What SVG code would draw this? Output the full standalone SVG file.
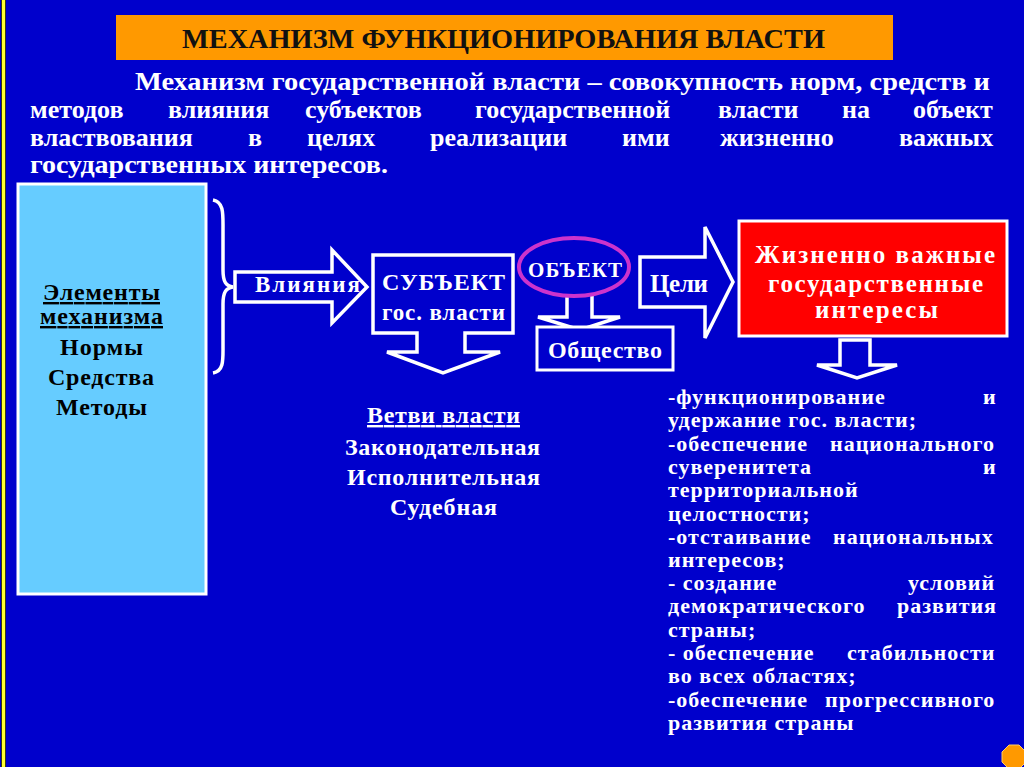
<svg xmlns="http://www.w3.org/2000/svg" width="1024" height="767" viewBox="0 0 1024 767">
<style>
  .t { font-family: "Liberation Serif", "Times New Roman", serif; font-weight: bold; }
  .w { fill: #FFFFFF; }
  .k { fill: #000000; }
  .shape { fill: #0000CC; stroke: #FFFFFF; stroke-width: 3.5; stroke-linejoin: miter; }
  .list { font-size: 22px; letter-spacing: 1px; }
</style>
<rect x="0" y="0" width="1024" height="767" fill="#0000CC"/>
<rect x="1" y="0" width="5" height="767" fill="#3A3A10"/>
<rect x="2" y="0" width="3" height="767" fill="#FFFF33"/>

<g id="title">
  <rect x="116" y="15" width="777" height="45" fill="#FF9900"/>
  <text class="t" x="182" y="48" font-size="28" fill="#111111" textLength="643" lengthAdjust="spacingAndGlyphs">МЕХАНИЗМ ФУНКЦИОНИРОВАНИЯ ВЛАСТИ</text>
</g>

<g id="definition" class="t w" font-size="26">
  <text x="135" y="90" textLength="855" lengthAdjust="spacingAndGlyphs">Механизм государственной власти – совокупность норм, средств и</text>
  <text y="118"><tspan x="30">методов</tspan><tspan x="168">влияния</tspan><tspan x="305">субъектов</tspan><tspan x="475">государственной</tspan><tspan x="718">власти</tspan><tspan x="842">на</tspan><tspan x="913">объект</tspan></text>
  <text y="146"><tspan x="30">властвования</tspan><tspan x="248">в</tspan><tspan x="307">целях</tspan><tspan x="430">реализации</tspan><tspan x="622">ими</tspan><tspan x="720">жизненно</tspan><tspan x="899">важных</tspan></text>
  <text x="30" y="173" textLength="358" lengthAdjust="spacingAndGlyphs">государственных интересов.</text>
</g>

<g id="elements">
  <rect x="18" y="184" width="188" height="410" fill="#66CCFF" stroke="#FFFFFF" stroke-width="3"/>
  <g class="t k" font-size="24">
    <text x="43" y="300" textLength="117" text-decoration="underline">Элементы</text>
    <text x="40" y="324" textLength="123" text-decoration="underline">механизма</text>
    <text x="60" y="355" textLength="83">Нормы</text>
    <text x="48" y="385" textLength="106">Средства</text>
    <text x="56" y="415" textLength="91">Методы</text>
  </g>
</g>

<g id="connectors">
  <path d="M213,200 C224,202 223,214 223,230 L223,270 C223,282 226,286 233,287 C226,288 223,292 223,304 L223,345 C223,360 224,371 213,373" fill="none" stroke="#FFFFFF" stroke-width="3.5"/>
  <polygon class="shape" points="235,272 332,272 332,250 367,287 332,323 332,302 235,302"/>
  <polygon class="shape" points="567,290 592,290 592,317 620,317 580,330 538,317 567,317"/>
  <polygon class="shape" points="640,257 705,257 705,227 733,282 705,338 705,307 640,307"/>
  <polygon class="shape" points="840,340 870,340 870,365 897,365 857,378 817,365 840,365"/>
</g>

<g id="vliyaniya">
  <text class="t w" x="255" y="292" font-size="23" textLength="105">Влияния</text>
</g>

<g id="subject">
  <polygon class="shape" stroke-width="3" points="373,255 513,255 513,333 465,333 465,352 500,352 443,373 387,352 417,352 417,333 373,333"/>
  <text class="t w" x="382" y="290" font-size="24" textLength="123">СУБЪЕКТ</text>
  <text class="t w" x="382" y="320" font-size="23" textLength="123">гос. власти</text>
</g>

<g id="object">
  <ellipse cx="574" cy="267" rx="55" ry="29" fill="#0000CC" stroke="#CC33CC" stroke-width="4"/>
  <text class="t w" x="528" y="277" font-size="21" textLength="94">ОБЪЕКТ</text>
</g>

<g id="society">
  <rect x="537" y="327" width="136" height="43" fill="#0000CC" stroke="#FFFFFF" stroke-width="3"/>
  <text class="t w" x="548" y="358" font-size="24" textLength="114">Общество</text>
</g>

<g id="tseli">
  <text class="t w" x="650" y="292" font-size="25" textLength="58">Цели</text>
</g>

<g id="interests">
  <rect x="739" y="221" width="268" height="115" fill="#FF0000" stroke="#FFFFFF" stroke-width="3"/>
  <text class="t w" x="755" y="263" font-size="25" textLength="240">Жизненно важные</text>
  <text class="t w" x="768" y="292" font-size="25" textLength="215">государственные</text>
  <text class="t w" x="815" y="318" font-size="25" textLength="123">интересы</text>
</g>

<g id="branches" class="t w" font-size="24">
  <text x="367" y="423" textLength="153" text-decoration="underline">Ветви власти</text>
  <text x="345" y="455" textLength="195">Законодательная</text>
  <text x="347" y="485" textLength="193">Исполнительная</text>
  <text x="390" y="515" textLength="107">Судебная</text>
</g>

<g id="goals" class="t w list">
  <text y="404"><tspan x="668">-функционирование</tspan><tspan x="983">и</tspan></text>
  <text x="668" y="427">удержание гос. власти;</text>
  <text y="451"><tspan x="668">-обеспечение</tspan><tspan x="830">национального</tspan></text>
  <text y="474"><tspan x="668">суверенитета</tspan><tspan x="983">и</tspan></text>
  <text x="668" y="497">территориальной</text>
  <text x="668" y="521">целостности;</text>
  <text y="544"><tspan x="668">-отстаивание</tspan><tspan x="833">национальных</tspan></text>
  <text x="668" y="567">интересов;</text>
  <text y="590"><tspan x="668">- создание</tspan><tspan x="908">условий</tspan></text>
  <text y="613"><tspan x="668">демократического</tspan><tspan x="897">развития</tspan></text>
  <text x="668" y="637">страны;</text>
  <text y="660"><tspan x="668">- обеспечение</tspan><tspan x="847">стабильности</tspan></text>
  <text x="668" y="683">во всех областях;</text>
  <text y="707"><tspan x="668">-обеспечение</tspan><tspan x="825">прогрессивного</tspan></text>
  <text x="668" y="730">развития страны</text>
</g>

<polygon points="1019,745 1026,752 1026,762 1019,769 1009,769 1002,762 1002,752 1009,745" fill="#FF9900" stroke="#FFCC66" stroke-width="1"/>
</svg>
